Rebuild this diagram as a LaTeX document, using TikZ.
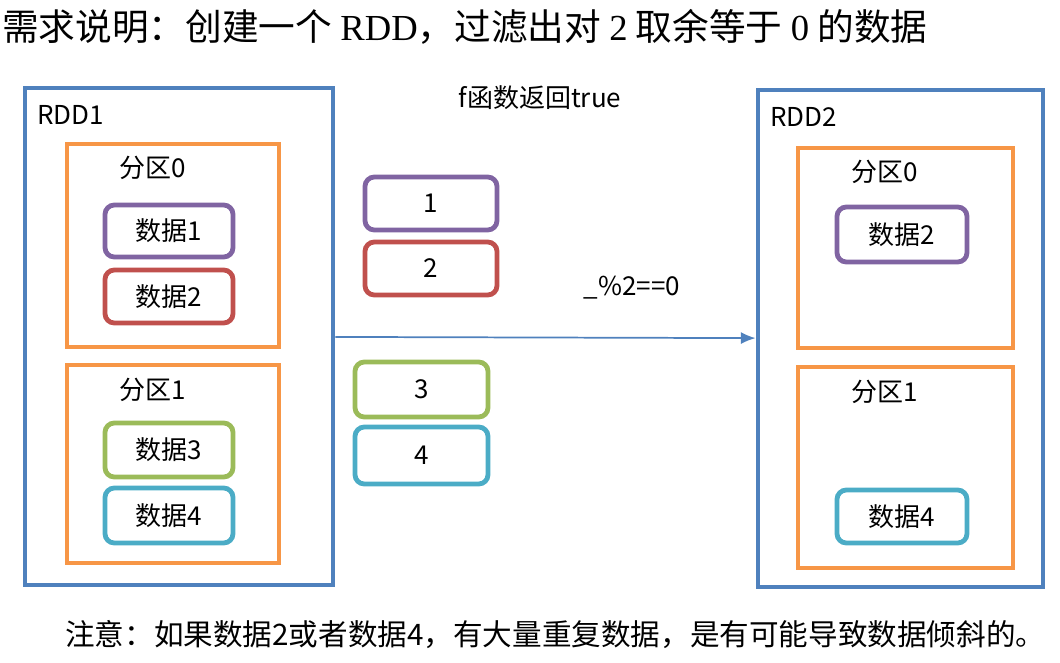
\documentclass[tikz,border=0pt]{standalone}
\usepackage{fontspec}
\setmainfont{Noto Sans CJK SC}
\newfontfamily\titlelat{Liberation Serif}
\usetikzlibrary{fit,arrows.meta}
\definecolor{cblue}{HTML}{4F81BD}
\definecolor{corange}{HTML}{F79646}
\definecolor{cpurple}{HTML}{8064A2}
\definecolor{cred}{HTML}{C0504D}
\definecolor{cgreen}{HTML}{9BBB59}
\definecolor{cteal}{HTML}{4BACC6}
\tikzset{
  rddbox/.style={draw=cblue, line width=3.6pt, inner sep=0pt},
  partbox/.style={draw=corange, line width=3.6pt, inner sep=0pt},
  databox/.style n args={3}{draw=#1, line width=3.6pt, inner sep=0pt, rounded corners=7pt,
     minimum width=#2*0.75pt, minimum height=#3*0.75pt, font=\fontsize{19.5pt}{22pt}\selectfont},
  lbl/.style={inner sep=0pt, font=\fontsize{19.5pt}{22pt}\selectfont},
  flow/.style={draw=cblue, line width=1.3pt, -{Latex[length=11pt,width=9pt]}}
}
\begin{document}
\begin{tikzpicture}[x=0.75pt,y=-0.75pt]
\useasboundingbox (0,0) rectangle (1060,662);
% title
\node[anchor=west, inner sep=0pt, font=\fontsize{27.5pt}{30pt}\selectfont] (title) at (2,27)
  {需求说明：创建一个 {\titlelat RDD}，过滤出对 {\titlelat 2} 取余等于 {\titlelat 0} 的数据};
% RDD1
\node[rddbox, fit={(25,88)(333,585)}] (rdd1) {};
\node[lbl, anchor=west] (rdd1l) at (37,115) {RDD1};
\node[partbox, fit={(67,144)(279,347)}] (p10) {};
\node[partbox, fit={(67,365)(279,563)}] (p11) {};
\node[lbl] (p10l) at (153,168) {分区0};
\node[lbl] (p11l) at (153,390) {分区1};
\node[databox={cpurple}{128}{52}] (d1) at (169,231) {数据1};
\node[databox={cred}{128}{53}] (d2) at (169,296.5) {数据2};
\node[databox={cgreen}{128}{54}] (d3) at (169,450) {数据3};
\node[databox={cteal}{128}{55}] (d4) at (169,515.5) {数据4};
% middle
\node[lbl] (ftxt) at (540,98) {f函数返回true};
\node[databox={cpurple}{132}{53}] (m1) at (431,203.5) {1};
\node[databox={cred}{132}{53}] (m2) at (431,268.5) {2};
\node[databox={cgreen}{133}{55}] (m3) at (421.5,389.5) {3};
\node[databox={cteal}{133}{57}] (m4) at (421.5,455.5) {4};
\node[lbl] (cond) at (632,288) {\_\%2==0};
% RDD2
\node[rddbox, fit={(758,90)(1043,587)}] (rdd2) {};
\node[lbl, anchor=west] (rdd2l) at (770,117) {RDD2};
\node[partbox, fit={(798,148)(1013,348)}] (p20) {};
\node[partbox, fit={(798,367)(1013,568)}] (p21) {};
\node[lbl] (p20l) at (885,172) {分区0};
\node[lbl] (p21l) at (885,392) {分区1};
\node[databox={cpurple}{130}{55}] (e2) at (902,234.5) {数据2};
\node[databox={cteal}{130}{53}] (e4) at (902,516.5) {数据4};
% arrow
\draw[flow] (rdd1) -- (rdd2);
% note
\node[anchor=west, inner sep=0pt, font=\fontsize{22.2pt}{24pt}\selectfont] (note) at (65,635)
  {注意：如果数据2或者数据4，有大量重复数据，是有可能导致数据倾斜的。};
\end{tikzpicture}
\end{document}
